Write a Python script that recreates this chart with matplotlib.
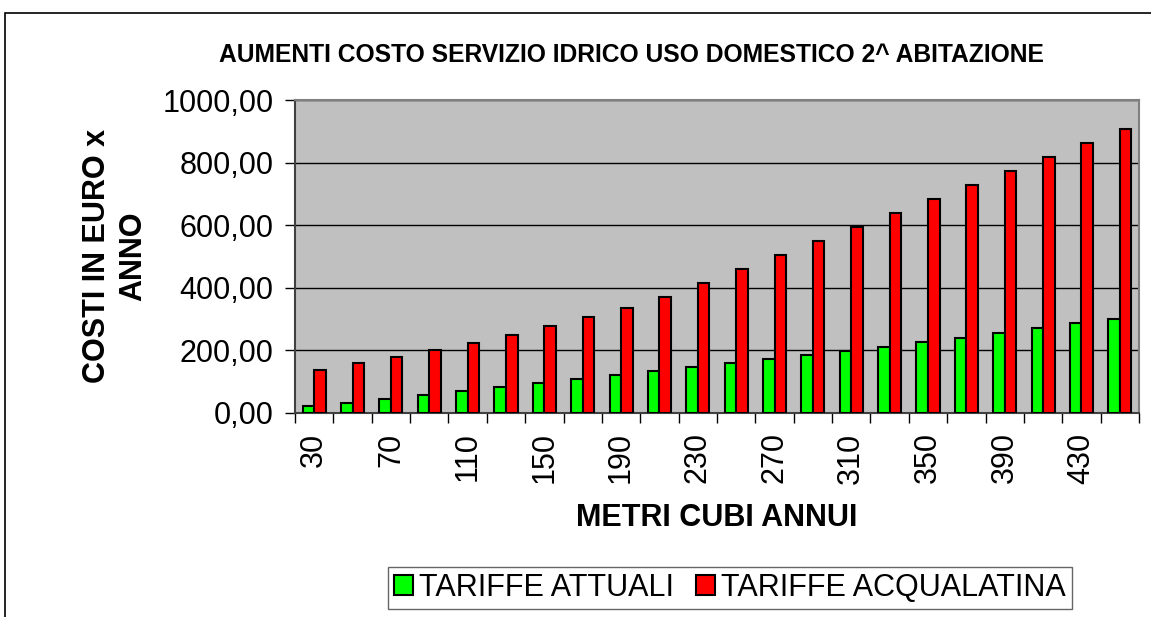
import matplotlib
matplotlib.use("Agg")
import matplotlib.pyplot as plt
from matplotlib.patches import Rectangle
import numpy as np

plt.rcParams["font.family"] = ["Liberation Sans", "DejaVu Sans"]

metri_cubi = [30, 50, 70, 90, 110, 130, 150, 170, 190, 210, 230,
              250, 270, 290, 310, 330, 350, 370, 390, 410, 430, 450]
tariffe_attuali = [21, 33, 46, 59, 70, 83, 96, 109, 122, 133, 147,
                   159, 172, 184, 197, 211, 226, 241, 256, 271, 287, 301]
tariffe_acqualatina = [136, 159, 180, 201, 223, 250, 279, 306, 335, 370, 416,
                       459, 504, 549, 595, 639, 684, 728, 773, 818, 862, 907]
y_ticks = [0, 200, 400, 600, 800, 1000]

W, H = 1151, 617
fig = plt.figure(figsize=(W / 100, H / 100), dpi=100)
ax = fig.add_axes([295 / W, 1 - 413 / H, (1139 - 295) / W, (413 - 100) / H])

# chart area border (partly cut off, like the source)
fig.patches.append(Rectangle((5 / W, -0.1), 1.2, 1 - 13 / H + 0.1,
                             transform=fig.transFigure, fill=False,
                             edgecolor="black", linewidth=1.2))

x = np.arange(len(metri_cubi))
ax.set_facecolor("#C0C0C0")
ax.bar(x - 0.15, tariffe_attuali, width=0.3, color="#00FF00",
       edgecolor="black", linewidth=1.5, label="TARIFFE ATTUALI", zorder=3)
ax.bar(x + 0.15, tariffe_acqualatina, width=0.3, color="#FF0000",
       edgecolor="black", linewidth=1.5, label="TARIFFE ACQUALATINA", zorder=3)

ax.set_xlim(-0.5, len(metri_cubi) - 0.5)
ax.set_ylim(0, 1000)
ax.set_yticks(y_ticks)
ax.set_yticklabels(["%d,00" % v for v in y_ticks], fontsize=22)
ax.grid(axis="y", color="black", linewidth=1, zorder=1)

ax.set_xticks(x[::2])
ax.set_xticklabels([str(m) for m in metri_cubi[::2]], rotation=90, fontsize=22)
ax.tick_params(axis="x", which="major", length=0, pad=14)
ax.set_xticks(np.arange(-0.5, len(metri_cubi), 1), minor=True)
ax.tick_params(axis="x", which="minor", length=7.5, width=1, direction="out")
ax.tick_params(axis="y", length=7.5, width=1, direction="out", pad=8)

for side in ["top", "right"]:
    ax.spines[side].set_color("#808080")
    ax.spines[side].set_linewidth(1.5)
for side in ["left", "bottom"]:
    ax.spines[side].set_color("#404040")
    ax.spines[side].set_linewidth(1.5)

fig.text(717 / W, 1 - 518 / H, "METRI CUBI ANNUI", ha="center", va="center",
         fontsize=22, fontweight="bold")
fig.text(115 / W, 1 - 256 / H, "COSTI IN EURO x\nANNO", ha="center", va="center",
         rotation=90, fontsize=22, fontweight="bold", linespacing=1.3)

fig.text(631 / W, 1 - 55 / H, "AUMENTI COSTO SERVIZIO IDRICO USO DOMESTICO 2^ ABITAZIONE",
         ha="center", va="center", fontsize=17.7, fontweight="bold")

fig.legend(loc="center", bbox_to_anchor=(730 / W, 1 - 588 / H), ncol=2,
           fontsize=22, frameon=True, fancybox=False, edgecolor="#404040",
           handlelength=0.62, handleheight=0.62, handletextpad=0.2,
           columnspacing=0.7, borderpad=0.2, borderaxespad=0)

fig.savefig("out.png", dpi=100)
